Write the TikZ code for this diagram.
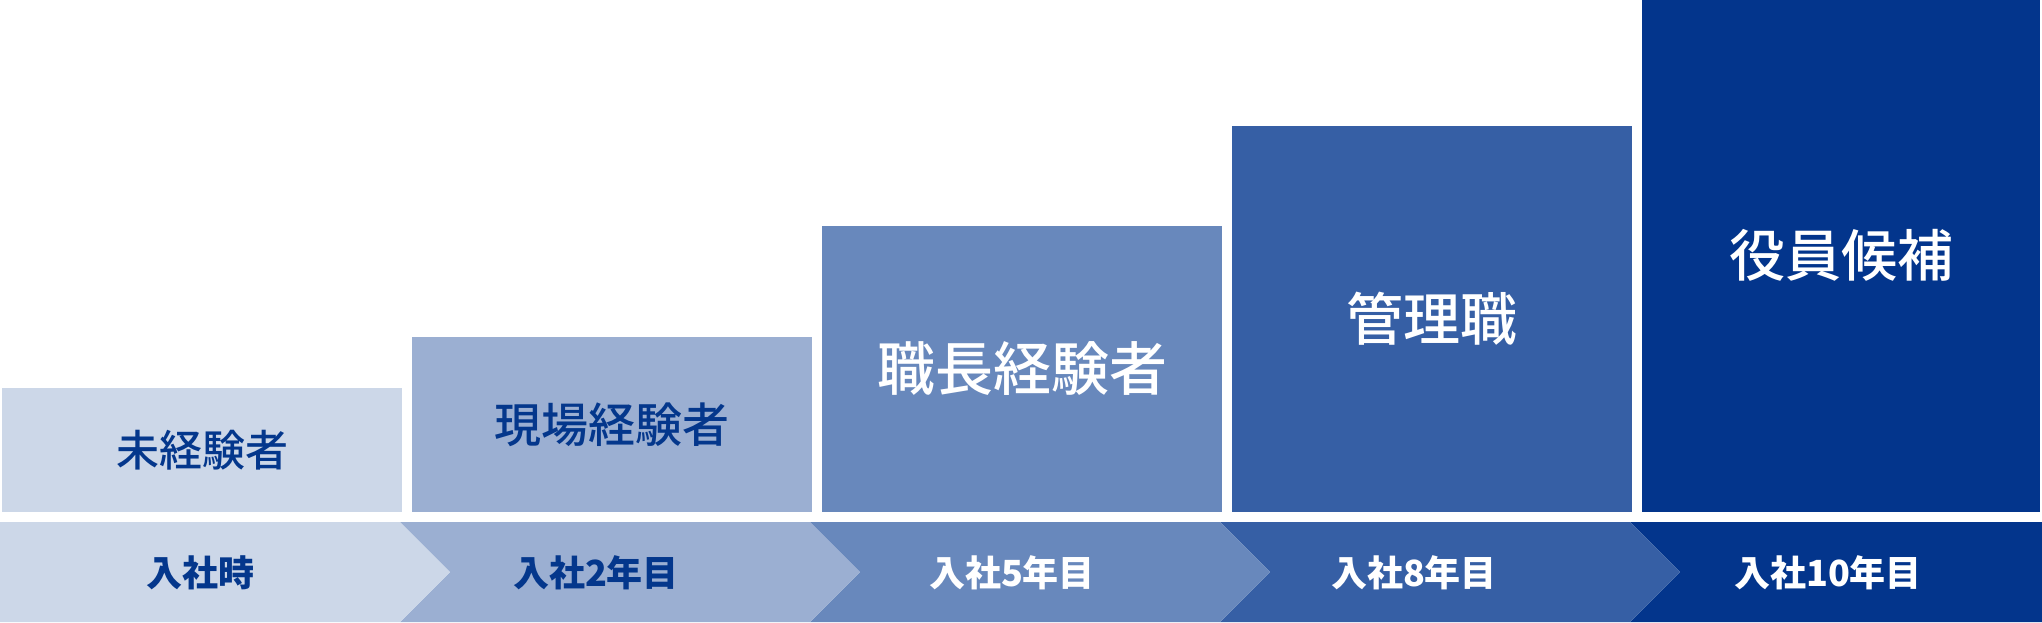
\documentclass[tikz,border=0pt]{standalone}
\usepackage{fontspec}
\newfontfamily\jp{Noto Sans CJK JP}
\newfontfamily\jpm{Noto Sans CJK JP Medium}
\definecolor{cA}{HTML}{CCD7E8}
\definecolor{cB}{HTML}{9BAFD2}
\definecolor{cC}{HTML}{6888BC}
\definecolor{cD}{HTML}{365FA5}
\definecolor{cE}{HTML}{03358C}
\definecolor{ink}{HTML}{04378C}
\tikzset{
  box/.style={inner sep=0pt, minimum width=400pt, anchor=south},
  darklbl/.style={text=ink},
  lightlbl/.style={text=white},
  bandlbl/.style={inner sep=0pt, font=\jp\bfseries\fontsize{36pt}{40pt}\selectfont},
}
\begin{document}
\begin{tikzpicture}[x=1pt,y=-1pt]
\useasboundingbox[fill=white] (0,0) rectangle (2042,622);
% top boxes
\node[box, fill=cA, minimum height=124pt] (b1) at (202,512) {};
\node[box, fill=cB, minimum height=175pt] (b2) at (612,512) {};
\node[box, fill=cC, minimum height=286pt] (b3) at (1022,512) {};
\node[box, fill=cD, minimum height=386pt] (b4) at (1432,512) {};
\node[box, fill=cE, minimum height=512pt, minimum width=398pt] (b5) at (1841,512) {};
\node[darklbl, font=\jpm\fontsize{43pt}{48pt}\selectfont] (t1) at (b1.center) {未経験者};
\node[darklbl, font=\jpm\fontsize{47pt}{52pt}\selectfont] (t2) at (b2.center) {現場経験者};
\node[lightlbl, font=\jpm\fontsize{58pt}{64pt}\selectfont] (t3) at (b3.center) {職長経験者};
\node[lightlbl, font=\jpm\fontsize{57pt}{64pt}\selectfont] (t4) at (b4.center) {管理職};
\node[lightlbl, font=\jpm\fontsize{56pt}{64pt}\selectfont] (t5) at (b5.center) {役員候補};
% band chevrons
\fill[cE] (1630,522) -- (2042,522) -- (2042,622) -- (1630,622) -- (1680,572) -- cycle;
\fill[cD] (1220,522) -- (1630,522) -- (1680,572) -- (1630,622) -- (1220,622) -- (1270,572) -- cycle;
\fill[cC] (810,522) -- (1220,522) -- (1270,572) -- (1220,622) -- (810,622) -- (860,572) -- cycle;
\fill[cB] (400,522) -- (810,522) -- (860,572) -- (810,622) -- (400,622) -- (450,572) -- cycle;
\fill[cA] (0,522) -- (400,522) -- (450,572) -- (400,622) -- (0,622) -- cycle;
\node[bandlbl, text=ink] (y1) at (200,573) {入社時};
\node[bandlbl, text=ink] (y2) at (596,573) {入社2年目};
\node[bandlbl, text=white] (y3) at (1012,573) {入社5年目};
\node[bandlbl, text=white] (y4) at (1414,573) {入社8年目};
\node[bandlbl, text=white] (y5) at (1828,573) {入社10年目};
\end{tikzpicture}
\end{document}
